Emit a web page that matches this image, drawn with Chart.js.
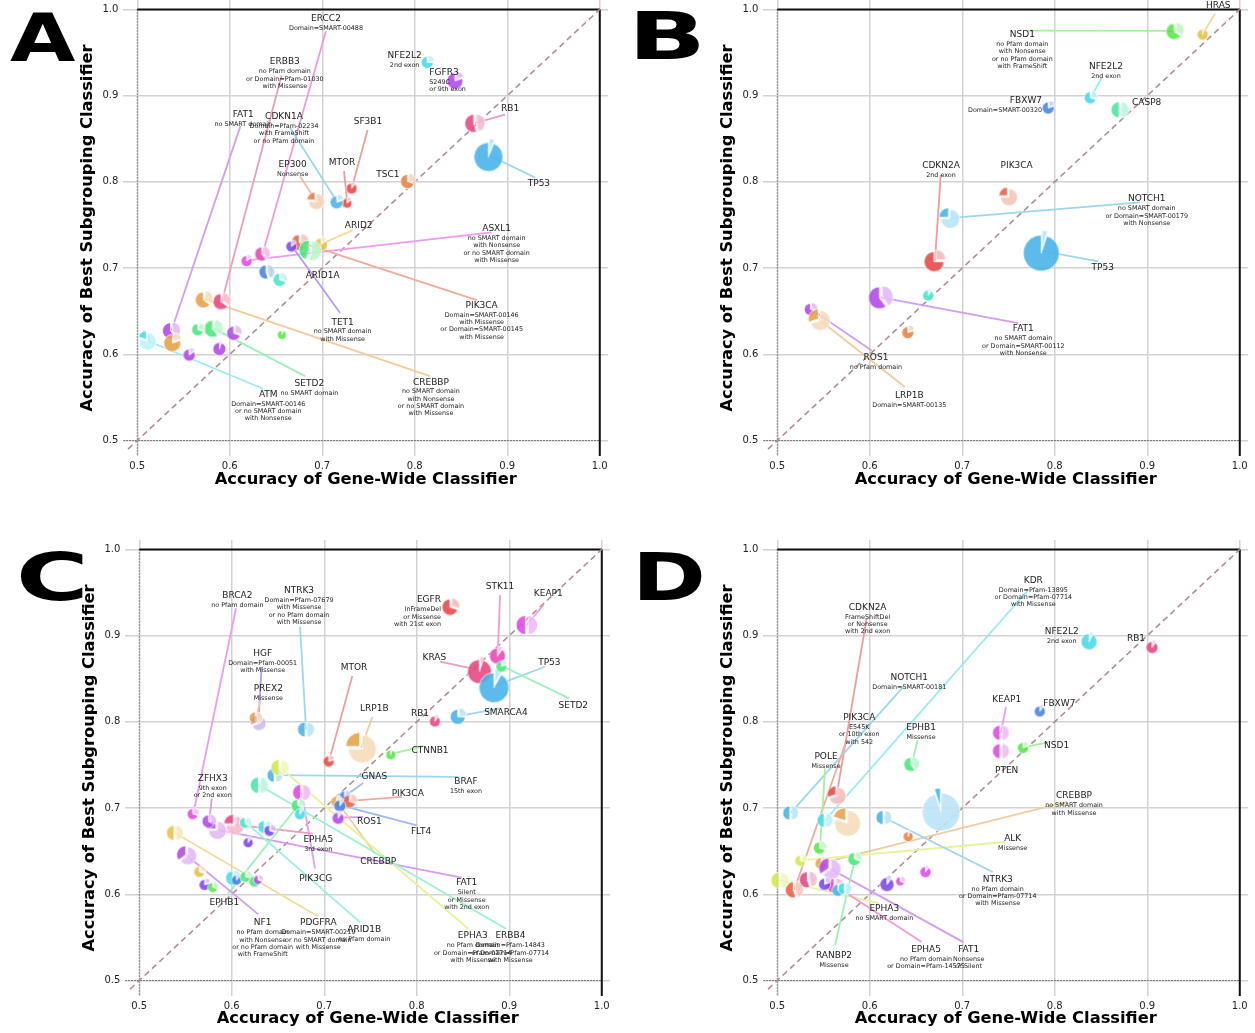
<!DOCTYPE html>
<html>
<head>
<meta charset="utf-8">
<script src="https://cdn.jsdelivr.net/npm/chart.js@4.4.1/dist/chart.umd.min.js"></script>
<style>
body { margin: 0; background: #fff; width: 1255px; height: 1033px; position: relative; overflow: hidden; }
canvas { position: absolute; }
.tag { position: absolute; font-family: "DejaVu Sans", sans-serif; font-weight: bold; font-size: 66px; line-height: 66px; color: #000; transform-origin: left top; }
</style>
</head>
<body>
<canvas id="panelA" width="615" height="520" style="left:0;top:0"></canvas>
<canvas id="panelB" width="615" height="520" style="left:640px;top:0"></canvas>
<canvas id="panelC" width="615" height="493" style="left:2px;top:540px"></canvas>
<canvas id="panelD" width="615" height="493" style="left:640px;top:540px"></canvas>
<div class="tag" style="left:10px;top:6px;transform:scaleX(1.28)">A</div>
<div class="tag" style="left:628px;top:4px;transform:scaleX(1.55)">B</div>
<div class="tag" style="left:16px;top:545px;transform:scaleX(1.5)">C</div>
<div class="tag" style="left:632px;top:545px;transform:scaleX(1.35)">D</div>
<script>
// axis ticks and titles
const tickVals = [0.5, 0.6, 0.7, 0.8, 0.9, 1.0];
const xTitle = 'Accuracy of Gene-Wide Classifier';
const yTitle = 'Accuracy of Best Subgrouping Classifier';

// hue per gene (dark slice), the light slice is a tint of it
const palette = {
    red: '#e84a4a', verm: '#e8644a', tang: '#e8844a', orange: '#e8a24a', gold: '#e8c04a',
    lime: '#d4e84a', green: '#5ae84a', jade: '#4ae87c', mint: '#4ae8a4', teal: '#4ae8c8',
    cyan: '#4adce8', sky: '#4ab4e8', blue: '#4a84e8', violet: '#7c4ae8', purple: '#b44ae8',
    magenta: '#e04ae8', pink: '#e84ab4', rose: '#e84a84'
};

// ---- panel A ----
const geneA = ['NFE2L2','FGFR3','RB1','TP53','TSC1','SF3B1','MTOR','CDKN1A','EP300','ERCC2','ASXL1','ARID2','PIK3CA','TET1','ARID1A','FAT1','ERBB3','CREBBP','SETD2','ATM','','','','','','','',''];
const gwA = [0.814,0.844,0.865,0.880,0.793,0.732,0.727,0.716,0.693,0.6355,0.6185,0.699,0.676,0.667,0.687,0.537,0.5915,0.5724,0.5825,0.5105,0.5385,0.566,0.605,0.5565,0.589,0.6564,0.640,0.6546];
const bsA = [0.939,0.918,0.868,0.831,0.801,0.793,0.776,0.777,0.778,0.7166,0.7088,0.728,0.730,0.7257,0.7205,0.6276,0.6616,0.6636,0.630,0.616,0.614,0.629,0.625,0.5998,0.607,0.623,0.6957,0.6868];
const sizeA = [6,8,9,14.5,7,5.5,5,6.5,8,7,5.5,6.5,8,5.5,10,8,8,8,8.5,8.5,8.5,6,7,6,6.5,4.5,7,6.5];
const fracA = [0.25,0.2,0.45,0.06,0.3,0.1,0.15,0.2,0.75,0.4,0.15,0.15,0.35,0.15,0.55,0.4,0.35,0.35,0.4,0.8,0.2,0.3,0.3,0.15,0.05,0.05,0.45,0.3];
const colA = ['cyan','purple','rose','sky','tang','red','red','sky','tang','pink','magenta','gold','verm','violet','jade','purple','rose','orange','jade','cyan','orange','jade','purple','purple','purple','green','blue','teal'];
// [gene, sub lines, label x, label y, leader x, leader y, align]
const noteA = [
    ['ERCC2',['Domain=SMART-00488'],0.704,0.989,0.704,0.975],
    ['ERBB3',['no Pfam domain','or Domain=Pfam-01030','with Missense'],0.6595,0.939,0.656,0.9234],
    ['NFE2L2',['2nd exon'],0.789,0.9466],
    ['FGFR3',['S249C','or 9th exon'],0.8157,0.9269,null,null,'left'],
    ['FAT1',['no SMART domain'],0.6146,0.8782,0.6115,0.8646],
    ['CDKN1A',['Domain=Pfam-02234','with FrameShift','or no Pfam domain'],0.6586,0.8755,0.665,0.8631],
    ['SF3B1',[],0.7494,0.8693,0.749,0.86],
    ['RB1',[],0.903,0.8852,0.8975,0.878],
    ['TP53',[],0.9342,0.7981,0.930,0.805],
    ['TSC1',[],0.771,0.8086],
    ['MTOR',[],0.7213,0.8225,0.7235,0.8124],
    ['EP300',['Nonsense'],0.668,0.8194,0.676,0.8063],
    ['ARID2',[],0.7394,0.7486,0.7332,0.744],
    ['ASXL1',['no SMART domain','with Nonsense','or no SMART domain','with Missense'],0.8885,0.7456,0.883,0.7413],
    ['ARID1A',[],0.7004,0.6914],
    ['TET1',['no SMART domain','with Missense'],0.722,0.6372,0.7191,0.6481],
    ['PIK3CA',['Domain=SMART-00146','with Missense','or Domain=SMART-00145','with Missense'],0.8723,0.6566,0.8669,0.6628],
    ['SETD2',['no SMART domain'],0.686,0.5658,0.6813,0.5746],
    ['ATM',['Domain=SMART-00146','or no SMART domain','with Nonsense'],0.6416,0.5534,0.6362,0.56],
    ['CREBBP',['no SMART domain','with Nonsense','or no SMART domain','with Missense'],0.8175,0.5676,0.8164,0.5746]
];

// ---- panel B ----
const geneB = ['NSD1','HRAS','NFE2L2','FBXW7','CASP8','PIK3CA','CDKN2A','NOTCH1','TP53','','FAT1','','ROS1','LRP1B'];
const gwB = [0.930,0.960,0.839,0.7934,0.8706,0.7497,0.6705,0.686,0.7858,0.6633,0.612,0.6416,0.5364,0.5454];
const bsB = [0.975,0.9715,0.898,0.8863,0.8836,0.783,0.7085,0.758,0.720,0.669,0.666,0.6258,0.6524,0.640];
const sizeB = [8,5.5,6,6,8,8.5,10,9.5,18,5.5,11,6,6,10];
const fracB = [0.35,0.05,0.3,0.2,0.5,0.75,0.25,0.75,0.05,0.1,0.4,0.2,0.3,0.7];
const colB = ['green','gold','cyan','blue','mint','verm','red','sky','sky','teal','purple','tang','purple','orange'];
const noteB = [
    ['HRAS',[],0.9768,1.0043,0.9732,0.995],
    ['NSD1',['no Pfam domain','with Nonsense','or no Pfam domain','with FrameShift'],0.7649,0.9706,0.7714,0.9753],
    ['NFE2L2',['2nd exon'],0.8553,0.9339,0.8507,0.9204],
    ['FBXW7',['Domain=SMART-00320'],0.7862,0.8944,null,null,'right'],
    ['CASP8',[],0.8993,0.8914],
    ['PIK3CA',[],0.7588,0.8187],
    ['CDKN2A',['2nd exon'],0.677,0.819,0.6767,0.8082],
    ['NOTCH1',['no SMART domain','or Domain=SMART-00179','with Nonsense'],0.8994,0.780,0.8921,0.7761],
    ['TP53',[],0.8518,0.7007,0.847,0.7077],
    ['FAT1',['no SMART domain','or Domain=SMART-00112','with Nonsense'],0.766,0.6292,0.7605,0.6362],
    ['ROS1',['no Pfam domain'],0.6067,0.5956,0.602,0.6044],
    ['LRP1B',['Domain=SMART-00135'],0.6427,0.5522,0.638,0.562]
];

// ---- panel C ----
const geneC = ['EGFR','STK11','KEAP1','KRAS','TP53','SETD2','SMARCA4','RB1','CTNNB1','LRP1B','MTOR','NTRK3','BRCA2','HGF','PREX2','GNAS','BRAF','PIK3CA','CREBBP','FLT4','ROS1','EPHA5','PIK3CG','FAT1','ZFHX3','EPHA3','ERBB4','ARID1B','PDGFRA','NF1','EPHB1','','','','','','','','','','','',''];
const gwC = [0.8368,0.8876,0.919,0.868,0.884,0.892,0.845,0.8198,0.772,0.7398,0.7052,0.6803,0.5584,0.6287,0.6262,0.7225,0.6467,0.7279,0.7135,0.7171,0.7152,0.6027,0.6756,0.5837,0.5757,0.6522,0.6298,0.6151,0.5386,0.5513,0.672,0.6738,0.6179,0.636,0.6414,0.5656,0.5711,0.580,0.6017,0.6053,0.6154,0.6251,0.6287];
const bsC = [0.9336,0.8775,0.9123,0.860,0.8418,0.8647,0.8066,0.8012,0.7625,0.770,0.7547,0.7912,0.6936,0.7988,0.8046,0.714,0.7381,0.7083,0.7079,0.7033,0.689,0.6808,0.718,0.675,0.685,0.747,0.7265,0.6832,0.6711,0.6452,0.7032,0.6936,0.6606,0.678,0.6742,0.6266,0.6115,0.6084,0.6193,0.617,0.6208,0.6153,0.617];
const sizeC = [8,8,9.5,12,15,5.5,7.5,5.5,5,14,5.5,7.5,5.5,7,6,5.5,7,6.5,5.5,6,6,9.5,8,9,6.5,8,8,5.5,7.5,9,6.5,5.5,5,6.5,5.5,5.5,5.5,5,7,5,5.5,5.5,4.5];
const fracC = [0.3,0.1,0.5,0.05,0.08,0.2,0.25,0.1,0.05,0.75,0.2,0.5,0.3,0.7,0.5,0.3,0.5,0.3,0.2,0.1,0.1,0.75,0.5,0.75,0.35,0.5,0.5,0.4,0.5,0.65,0.3,0.1,0.1,0.5,0.3,0.3,0.2,0.3,0.3,0.1,0.3,0.3,0.3];
const colC = ['red','pink','magenta','rose','sky','jade','sky','rose','green','orange','red','sky','magenta','violet','orange','blue','sky','verm','orange','blue','purple','rose','magenta','purple','purple','lime','mint','teal','gold','purple','jade','cyan','violet','cyan','violet','gold','violet','green','cyan','blue','jade','jade','purple'];
const noteC = [
    ['BRCA2',['no Pfam domain'],0.606,0.9463,0.6046,0.9317],
    ['NTRK3',['Domain=Pfam-07679','with Missense','or no Pfam domain','with Missense'],0.6727,0.9521,0.6738,0.9103],
    ['EGFR',['InFrameDel','or Missense','with 21st exon'],0.8262,0.9413,null,null,'right'],
    ['STK11',[],0.890,0.9568,0.890,0.9472],
    ['KEAP1',[],0.9422,0.9491,0.9368,0.9355],
    ['KRAS',[],0.819,0.8748,0.8251,0.8697],
    ['TP53',[],0.9433,0.8685,0.9386,0.8639],
    ['SETD2',[],0.9692,0.8186,0.9649,0.8272],
    ['SMARCA4',[],0.8964,0.8105,0.890,0.8156],
    ['RB1',[],0.8035,0.8098],
    ['HGF',['Domain=Pfam-00051','with Missense'],0.6334,0.8794,0.6323,0.8639],
    ['PREX2',['Missense'],0.6395,0.8388,0.6305,0.8232],
    ['MTOR',[],0.7321,0.8627,0.7303,0.8531],
    ['LRP1B',[],0.7541,0.8156,0.752,0.8058],
    ['CTNNB1',[],0.8143,0.7671,0.807,0.7718],
    ['ZFHX3',['9th exon','or 2nd exon'],0.5794,0.7343,0.5783,0.711],
    ['GNAS',[],0.7541,0.7361,0.7422,0.7292],
    ['BRAF',['15th exon'],0.8532,0.7303,0.8449,0.7361],
    ['PIK3CA',[],0.7902,0.7168,0.7837,0.7129],
    ['ROS1',[],0.7487,0.6839,0.7422,0.6897],
    ['FLT4',[],0.8046,0.6722,0.80,0.680],
    ['EPHA5',['3rd exon'],0.6935,0.6638,0.6875,0.6704],
    ['CREBBP',[],0.7584,0.6374,0.7548,0.6472],
    ['PIK3CG',[],0.6907,0.6181,0.690,0.6297],
    ['FAT1',['Silent','or Missense','with 2nd exon'],0.854,0.613,0.8486,0.6193],
    ['EPHB1',[],0.592,0.5898,0.5962,0.6007],
    ['NF1',['no Pfam domain','with Nonsense','or no Pfam domain','with FrameShift'],0.6334,0.5666,0.6287,0.5767],
    ['PDGFRA',['Domain=SMART-00219','or no SMART domain','with Missense'],0.6935,0.5666,0.6935,0.5743],
    ['ARID1B',['no Pfam domain'],0.7432,0.5589,0.7386,0.5677],
    ['EPHA3',['no Pfam domain','or Domain=Pfam-07714','with Missense'],0.8605,0.5515,0.8557,0.560],
    ['ERBB4',['Domain=Pfam-14843','or Domain=Pfam-07714','with Missense'],0.9012,0.5515,0.8965,0.560]
];

// ---- panel D ----
const geneD = ['KDR','NFE2L2','RB1','CDKN2A','NOTCH1','PIK3CA','POLE','RANBP2','EPHB1','KEAP1','PTEN','FBXW7','NSD1','CREBBP','ALK','NTRK3','EPHA3','EPHA5','FAT1','','','','','','','','','',''];
const gwD = [0.5516,0.8373,0.9054,0.5642,0.5145,0.5184,0.5462,0.584,0.6453,0.7418,0.7418,0.784,0.766,0.548,0.5256,0.6153,0.5029,0.5624,0.557,0.6767,0.6416,0.6604,0.6189,0.6334,0.5335,0.5516,0.566,0.5732,0.575];
const bsD = [0.6858,0.894,0.8871,0.7149,0.6943,0.6053,0.6541,0.6413,0.7509,0.7873,0.766,0.8128,0.7703,0.6362,0.6394,0.689,0.6161,0.6103,0.6297,0.6982,0.6676,0.6266,0.6123,0.6153,0.617,0.6123,0.6053,0.6065,0.6838];
const sizeD = [7,8,6,8.5,7,8,6,6.5,7,7.5,7.5,5.5,5.5,6,5.5,7,8,7.5,10,19,5,5.5,7,4.5,8,6,6,6,13];
const fracD = [0.5,0.08,0.1,0.7,0.5,0.45,0.3,0.3,0.4,0.5,0.5,0.1,0.2,0.25,0.3,0.5,0.5,0.5,0.65,0.95,0.05,0.1,0.1,0.3,0.45,0.2,0.2,0.5,0.8];
const colD = ['cyan','cyan','rose','red','sky','verm','green','jade','jade','magenta','magenta','blue','green','orange','lime','sky','lime','pink','purple','sky','tang','magenta','violet','magenta','rose','violet','sky','cyan','orange'];
const noteD = [
    ['KDR',['Domain=Pfam-13895','or Domain=Pfam-07714','with Missense'],0.7768,0.9638,0.7714,0.953],
    ['CDKN2A',['FrameShiftDel','or Nonsense','with 2nd exon'],0.5977,0.9329,0.5966,0.920],
    ['NFE2L2',['2nd exon'],0.8075,0.9045],
    ['RB1',[],0.8878,0.8961],
    ['NOTCH1',['Domain=SMART-00181'],0.6427,0.8516,0.6362,0.8406],
    ['KEAP1',[],0.748,0.826,0.7472,0.8174],
    ['FBXW7',[],0.8049,0.8206],
    ['PIK3CA',['E545K','or 10th exon','with 542'],0.5886,0.8047,0.575,0.7787],
    ['EPHB1',['Missense'],0.6554,0.7935,0.6518,0.7787],
    ['NSD1',[],0.802,0.7721,0.7948,0.7768],
    ['POLE',['Missense'],0.5527,0.7593,0.5516,0.7459],
    ['PTEN',[],0.748,0.7439],
    ['CREBBP',['no SMART domain','with Missense'],0.8208,0.714,0.8129,0.7071],
    ['ALK',['Missense'],0.7545,0.6646,0.7462,0.6606],
    ['NTRK3',['no Pfam domain','or Domain=Pfam-07714','with Missense'],0.7383,0.6173,0.7329,0.6258],
    ['EPHA3',['no SMART domain'],0.6157,0.5833,0.6092,0.5898],
    ['EPHA5',['no Pfam domain','or Domain=Pfam-14575'],0.6608,0.536,0.6561,0.5445],
    ['FAT1',['Nonsense','or Silent'],0.7069,0.536,0.7011,0.5445],
    ['RANBP2',['Missense'],0.5613,0.529,0.5624,0.5407]
];

Chart.defaults.font.family = "'DejaVu Sans', sans-serif";

function tint(hex, k) {
    const n = parseInt(hex.slice(1), 16);
    const c = [n >> 16, (n >> 8) & 255, n & 255].map(v => Math.round(v + (255 - v) * k));
    return 'rgb(' + c.join(',') + ')';
}

// small exploded two-slice pie used as the point style
function pieImage(r, f, dark) {
    const e = r * 0.13;
    const s = Math.ceil(2 * (r + e) + 4);
    const c = document.createElement('canvas');
    c.width = s; c.height = s;
    const g = c.getContext('2d');
    const top = -Math.PI / 2;
    const cut = top + f * 2 * Math.PI;
    const slices = [[top, cut, tint(dark, 0.62)], [cut, top + 2 * Math.PI, dark]];
    g.globalAlpha = 0.9;
    slices.forEach(([a0, a1, fill]) => {
        if (a1 - a0 < 1e-3) return;
        const mid = (a0 + a1) / 2;
        const ox = s / 2 + Math.cos(mid) * e, oy = s / 2 + Math.sin(mid) * e;
        g.beginPath();
        g.moveTo(ox, oy);
        g.arc(ox, oy, r, a0, a1);
        g.closePath();
        g.fillStyle = fill;
        g.fill();
        g.strokeStyle = '#fff';
        g.lineWidth = 0.8;
        g.stroke();
    });
    return c;
}

function seg(ctx, x0, y0, x1, y1) {
    ctx.beginPath(); ctx.moveTo(x0, y0); ctx.lineTo(x1, y1); ctx.stroke();
}

// guide lines, leader lines and gene labels
function notesPlugin(p) {
    return {
        id: 'geneNotes',
        beforeDatasetsDraw(chart) {
            const { ctx, chartArea: a, scales: { x, y } } = chart;
            const px = v => x.getPixelForValue(v), py = v => y.getPixelForValue(v);
            ctx.save();
            ctx.beginPath(); ctx.rect(a.left, a.top, a.width, a.height); ctx.clip();
            ctx.strokeStyle = '#444'; ctx.lineWidth = 1.1; ctx.setLineDash([1.2, 1.8]);
            seg(ctx, px(0.5), py(1), px(0.5), a.bottom);
            seg(ctx, a.left, py(0.5), px(1), py(0.5));
            ctx.setLineDash([]); ctx.strokeStyle = '#111'; ctx.lineWidth = 2;
            seg(ctx, px(0.5), py(1), px(1), py(1));
            seg(ctx, px(1), py(1), px(1), a.bottom);
            ctx.strokeStyle = '#b08e8e'; ctx.lineWidth = 1.6; ctx.setLineDash([6, 4]);
            seg(ctx, px(0.49), py(0.49), px(1), py(1));
            ctx.setLineDash([]); ctx.lineWidth = 1.8;
            p.notes.forEach(n => {
                if (n[4] == null) return;
                const i = p.genes.indexOf(n[0]);
                ctx.strokeStyle = tint(palette[p.col[i]], 0.45);
                seg(ctx, px(n[4]), py(n[5]), px(p.gw[i]), py(p.bs[i]));
            });
            ctx.restore();
        },
        afterDatasetsDraw(chart) {
            const { ctx, scales: { x, y } } = chart;
            ctx.save();
            ctx.fillStyle = '#1b1b1b';
            ctx.textBaseline = 'middle';
            p.notes.forEach(n => {
                const tx = x.getPixelForValue(n[2]), ty = y.getPixelForValue(n[3]);
                ctx.textAlign = n[6] || 'center';
                ctx.font = '9px "DejaVu Sans"';
                ctx.fillText(n[0], tx, ty);
                ctx.font = '6.4px "DejaVu Sans"';
                n[1].forEach((s, k) => ctx.fillText(s, tx, ty + 9.6 + k * 7.3));
            });
            ctx.restore();
        }
    };
}

// keep the plot box fixed: no extra padding for edge tick labels
function noPad(s) {
    s.paddingTop = 0; s.paddingBottom = 0; s.paddingLeft = 0; s.paddingRight = 0;
}

function buildPanel(id, genes, gw, bs, size, frac, col, notes) {
    const canvas = document.getElementById(id);
    const H = canvas.height;
    const titleFont = { family: 'DejaVu Sans', size: 16.3, weight: 'bold' };
    const half = 16.3 * 1.2 / 2;
    return new Chart(canvas, {
        type: 'scatter',
        data: {
            datasets: [{
                data: gw.map((v, i) => ({ x: v, y: bs[i] })),
                pointStyle: size.map((r, i) => pieImage(r, frac[i], palette[col[i]])),
                pointRadius: size,
                backgroundColor: col.map(c => palette[c])
            }]
        },
        options: {
            responsive: false,
            animation: false,
            events: [],
            layout: { autoPadding: false, padding: { left: 0, right: 6.9, top: 0, bottom: 0 } },
            plugins: { legend: { display: false }, tooltip: { enabled: false } },
            scales: {
                x: {
                    type: 'linear', min: 0.485, max: 1.009,
                    afterBuildTicks: s => { s.ticks = tickVals.map(v => ({ value: v })); },
                    afterFit: s => { s.height = H - 456; noPad(s); },
                    border: { display: false },
                    grid: { color: '#d2d2d2', lineWidth: 1.5, drawTicks: false },
                    ticks: { padding: 4, color: '#222', font: { size: 10 }, callback: v => v.toFixed(1) },
                    title: { display: true, text: xTitle, color: '#000', font: titleFont,
                             padding: { top: 0, bottom: H > 500 ? 520 - 480 - half : 493 - 479 - half } }
                },
                y: {
                    type: 'linear', min: 0.482, max: 1.0109,
                    afterBuildTicks: s => { s.ticks = tickVals.map(v => ({ value: v })); },
                    afterFit: s => { s.width = 123.4; noPad(s); },
                    border: { display: false },
                    grid: { color: '#d2d2d2', lineWidth: 1.5, drawTicks: false },
                    ticks: { padding: 5, color: '#222', font: { size: 10 }, callback: v => v.toFixed(1) },
                    title: { display: true, text: yTitle, color: '#000', font: titleFont,
                             padding: { top: 88 - half, bottom: 0 } }
                }
            }
        },
        plugins: [notesPlugin({ genes, gw, bs, col, notes })]
    });
}

buildPanel('panelA', geneA, gwA, bsA, sizeA, fracA, colA, noteA);
buildPanel('panelB', geneB, gwB, bsB, sizeB, fracB, colB, noteB);
buildPanel('panelC', geneC, gwC, bsC, sizeC, fracC, colC, noteC);
buildPanel('panelD', geneD, gwD, bsD, sizeD, fracD, colD, noteD);
</script>
</body>
</html>
